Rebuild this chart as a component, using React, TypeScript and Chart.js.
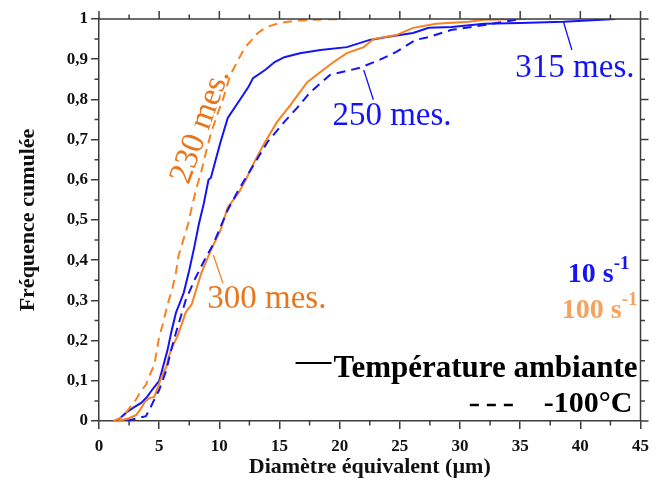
import React, { useEffect, useRef } from 'react';
import { Chart, registerables } from 'chart.js';

Chart.register(...registerables);

// ---- Data ----
// 10 s-1, ambient temperature (315 mes.)
const blueAmbX = [1.5, 2.3, 2.8, 3.5, 4.0, 4.4, 5.0, 5.25, 5.7, 6.0, 6.4, 6.8, 7.05, 7.5, 7.9, 8.3, 8.7, 9.1, 9.3, 9.7, 10.1, 10.7, 11.6, 12.4, 12.8, 13.8, 14.6, 15.4, 16.7, 18.4, 20.6, 22.5, 23.9, 26.1, 27.4, 29.3, 32, 35, 38.6, 42.9];
const blueAmbY = [0, 0.022, 0.032, 0.045, 0.06, 0.077, 0.1, 0.127, 0.177, 0.22, 0.27, 0.3, 0.32, 0.375, 0.43, 0.49, 0.54, 0.6, 0.605, 0.65, 0.694, 0.754, 0.794, 0.83, 0.853, 0.873, 0.893, 0.905, 0.915, 0.923, 0.93, 0.948, 0.955, 0.965, 0.978, 0.98, 0.988, 0.99, 0.993, 1.0];
// 10 s-1, -100°C (250 mes.)
const blueColdX = [2.3, 3.3, 3.9, 4.3, 4.7, 5.0, 5.6, 6.0, 6.4, 7.2, 8.0, 8.85, 9.5, 10.1, 10.7, 11.6, 12.3, 13.2, 14.0, 15.4, 16.5, 17.5, 19.2, 21.6, 23.3, 24.7, 26.3, 27.4, 29.3, 31, 33, 35];
const blueColdY = [0, 0.008, 0.012, 0.035, 0.06, 0.077, 0.127, 0.177, 0.22, 0.3, 0.355, 0.405, 0.44, 0.483, 0.525, 0.575, 0.61, 0.654, 0.694, 0.744, 0.78, 0.816, 0.861, 0.878, 0.898, 0.918, 0.948, 0.955, 0.973, 0.98, 0.99, 1.0];
// 100 s-1, ambient temperature (300 mes.)
const orangeAmbX = [1.6, 2.5, 3.1, 3.4, 3.8, 4.2, 4.6, 4.8, 5.2, 5.6, 5.8, 6.1, 6.5, 6.9, 7.2, 7.7, 8.5, 9.3, 10.1, 10.7, 11.6, 12.2, 12.9, 13.8, 14.8, 15.9, 17.3, 18.4, 19.5, 20.6, 22, 22.8, 24.7, 26.1, 28, 30.7, 32, 35.5];
const orangeAmbY = [0, 0.007, 0.015, 0.027, 0.047, 0.057, 0.06, 0.077, 0.11, 0.135, 0.16, 0.185, 0.21, 0.243, 0.27, 0.29, 0.368, 0.425, 0.475, 0.532, 0.567, 0.6, 0.644, 0.694, 0.744, 0.786, 0.843, 0.868, 0.893, 0.915, 0.93, 0.95, 0.96, 0.978, 0.988, 0.993, 0.998, 1.0];
// 100 s-1, -100°C (230 mes.)
const orangeColdX = [1.2, 2.0, 2.6, 3.0, 3.5, 3.9, 4.3, 4.6, 5.0, 5.25, 5.7, 6.1, 6.4, 6.6, 7.0, 7.4, 7.7, 8.1, 8.5, 8.9, 9.3, 9.8, 10.3, 10.9, 11.6, 12.1, 12.6, 13.2, 13.9, 15.0, 16.5, 18.5, 20.5];
const orangeColdY = [0, 0.01, 0.035, 0.05, 0.075, 0.09, 0.12, 0.14, 0.21, 0.235, 0.29, 0.33, 0.37, 0.41, 0.45, 0.49, 0.53, 0.58, 0.62, 0.67, 0.715, 0.76, 0.8, 0.86, 0.9, 0.928, 0.945, 0.965, 0.98, 0.99, 0.996, 0.999, 1.0];

// Axis ranges
const xMin = 0, xMax = 45, xStep = 5;
const yMin = 0, yMax = 1, yStep = 0.1;
const xTitle = 'Diamètre équivalent (µm)';
const yTitle = 'Fréquence cumulée';

// Annotations (data coordinates)
const annLabels = ['315 mes.', '250 mes.', '300 mes.', '230 mes.'];
const annX = [34.6, 19.4, 9.0, 8.45];
const annY = [0.856, 0.737, 0.282, 0.733];
const annRot = [0, 0, 0, -70];
const annSeries = ['blue', 'blue', 'orange', 'orange'];
const leadX1 = [38.6, 22.0, 9.5, null];
const leadY1 = [0.9925, 0.873, 0.413, null];
const leadX2 = [39.3, 22.8, 10.3, null];
const leadY2 = [0.923, 0.799, 0.343, null];

// Legend texts
const rateLabels = ['10 s', '100 s'];
const rateSup = '-1';
const tempLabels = ['Température ambiante', '-100°C'];

// ---- Styles ----
const BLUE = '#1414f5';
const ORANGE = '#f7821f';
const ORANGE_TXT = '#e8761c';
const ORANGE_LIGHT = '#f8a15c';
const AXIS = '#3c3c3c';
const SERIF = "'Liberation Serif', 'DejaVu Serif', serif";

const pts = (xs: number[], ys: number[]) => xs.map((x, i) => ({ x, y: ys[i] }));

const framePlugin = {
  id: 'frame',
  afterDraw(chart: any) {
    const { ctx, chartArea: a, scales } = chart;
    const xs = scales.x, ys = scales.y;
    ctx.save();
    ctx.strokeStyle = AXIS;
    ctx.lineWidth = 1.5;
    ctx.beginPath();
    ctx.moveTo(a.left, a.top); ctx.lineTo(a.right, a.top); ctx.lineTo(a.right, a.bottom);
    ctx.stroke();
    const major = 8, minor = 4.5;
    const xt = xs.ticks.map((t: any) => t.value);
    const yt = ys.ticks.map((t: any) => t.value);
    ctx.beginPath();
    xt.forEach((v: number, i: number) => {
      const p = xs.getPixelForValue(v);
      ctx.moveTo(p, a.top); ctx.lineTo(p, a.top - major);
      if (i < xt.length - 1) {
        const m = xs.getPixelForValue((v + xt[i + 1]) / 2);
        ctx.moveTo(m, a.top); ctx.lineTo(m, a.top - minor);
        ctx.moveTo(m, a.bottom); ctx.lineTo(m, a.bottom + minor);
      }
    });
    yt.forEach((v: number, i: number) => {
      const p = ys.getPixelForValue(v);
      ctx.moveTo(a.right, p); ctx.lineTo(a.right + major, p);
      if (i < yt.length - 1) {
        const m = ys.getPixelForValue((v + yt[i + 1]) / 2);
        ctx.moveTo(a.right, m); ctx.lineTo(a.right + minor, m);
        ctx.moveTo(a.left, m); ctx.lineTo(a.left - minor, m);
      }
    });
    ctx.stroke();
    ctx.restore();
  },
};

const textPlugin = {
  id: 'texts',
  afterDatasetsDraw(chart: any) {
    const { ctx, chartArea: a, scales } = chart;
    const xs = scales.x, ys = scales.y;
    ctx.save();
    annLabels.forEach((label, i) => {
      const col = annSeries[i] === 'blue' ? BLUE : ORANGE_TXT;
      if (leadX1[i] !== null) {
        ctx.strokeStyle = annSeries[i] === 'blue' ? BLUE : ORANGE;
        ctx.lineWidth = 1.3;
        ctx.beginPath();
        ctx.moveTo(xs.getPixelForValue(leadX1[i]), ys.getPixelForValue(leadY1[i]));
        ctx.lineTo(xs.getPixelForValue(leadX2[i]), ys.getPixelForValue(leadY2[i]));
        ctx.stroke();
      }
      ctx.fillStyle = col;
      ctx.font = `33px ${SERIF}`;
      const px = xs.getPixelForValue(annX[i]);
      const py = ys.getPixelForValue(annY[i]);
      if (annRot[i] !== 0) {
        ctx.save();
        ctx.translate(px, py);
        ctx.rotate((annRot[i] * Math.PI) / 180);
        ctx.textAlign = 'center';
        ctx.textBaseline = 'middle';
        ctx.fillText(label, 0, 0);
        ctx.restore();
      } else {
        ctx.textAlign = 'left';
        ctx.textBaseline = 'alphabetic';
        ctx.fillText(label, px, py);
      }
    });

    // strain-rate legend
    const rateCols = [BLUE, ORANGE_LIGHT];
    const rateRight = [a.right - 11, a.right - 3];
    const rateBase = [a.bottom - 139, a.bottom - 103];
    rateLabels.forEach((lab, i) => {
      ctx.font = `bold 19px ${SERIF}`;
      const sw = ctx.measureText(rateSup).width;
      ctx.textAlign = 'right';
      ctx.textBaseline = 'alphabetic';
      ctx.fillStyle = rateCols[i];
      ctx.fillText(rateSup, rateRight[i], rateBase[i] - 13);
      ctx.font = `bold 28px ${SERIF}`;
      ctx.fillText(lab, rateRight[i] - sw, rateBase[i]);
    });

    // temperature legend
    ctx.fillStyle = '#000';
    ctx.strokeStyle = '#000';
    ctx.font = `bold 31px ${SERIF}`;
    ctx.textAlign = 'right';
    const t1Right = a.right - 3, t1Base = a.bottom - 44;
    ctx.fillText(tempLabels[0], t1Right, t1Base);
    const w1 = ctx.measureText(tempLabels[0]).width;
    ctx.lineWidth = 2;
    ctx.beginPath();
    ctx.moveTo(t1Right - w1 - 38, t1Base - 14);
    ctx.lineTo(t1Right - w1 - 2, t1Base - 14);
    ctx.stroke();
    ctx.font = `bold 30px ${SERIF}`;
    const t2Right = a.right - 8, t2Base = a.bottom - 9;
    ctx.fillText(tempLabels[1], t2Right, t2Base);
    const w2 = ctx.measureText(tempLabels[1]).width;
    ctx.lineWidth = 2.5;
    ctx.setLineDash([9, 8]);
    ctx.beginPath();
    ctx.moveTo(t2Right - w2 - 74, t2Base - 7);
    ctx.lineTo(t2Right - w2 - 31, t2Base - 7);
    ctx.stroke();
    ctx.restore();
  },
};

export default function App() {
  const ref = useRef<HTMLCanvasElement | null>(null);
  useEffect(() => {
    if (!ref.current) return;
    const ds = (xs: number[], ys: number[], color: string, dashed: boolean) => ({
      data: pts(xs, ys),
      borderColor: color,
      backgroundColor: color,
      borderWidth: 2,
      borderDash: dashed ? [9, 6] : [],
      pointRadius: 0,
      showLine: true,
      fill: false,
      tension: 0,
    });
    const chart = new Chart(ref.current, {
      type: 'scatter',
      data: {
        datasets: [
          ds(orangeColdX, orangeColdY, ORANGE, true),
          ds(blueColdX, blueColdY, BLUE, true),
          ds(orangeAmbX, orangeAmbY, ORANGE, false),
          ds(blueAmbX, blueAmbY, BLUE, false),
        ],
      },
      options: {
        animation: false,
        responsive: false,
        layout: { padding: { top: 19, right: 8, left: 0, bottom: 0 } },
        plugins: { legend: { display: false }, tooltip: { enabled: false } },
        scales: {
          x: {
            type: 'linear',
            min: xMin,
            max: xMax,
            afterFit: (s: any) => { s.height = 71; },
            ticks: {
              stepSize: xStep,
              color: '#111',
              padding: 7,
              maxRotation: 0,
              font: { family: SERIF, size: 17, weight: 'bold' },
            },
            grid: { display: true, drawOnChartArea: false, drawTicks: true, tickLength: 8, color: AXIS, lineWidth: 1.5 },
            border: { display: true, color: AXIS, width: 1.5 },
            title: {
              display: true,
              text: xTitle,
              color: '#111',
              padding: { top: 0, bottom: 11 },
              font: { family: SERIF, size: 22, weight: 'bold' },
            },
          },
          y: {
            type: 'linear',
            min: yMin,
            max: yMax,
            afterFit: (s: any) => { s.width = 99; },
            ticks: {
              stepSize: yStep,
              color: '#111',
              padding: 3,
              font: { family: SERIF, size: 17, weight: 'bold' },
              callback: (v: any) => {
                const n = Number(v);
                if (Math.abs(n) < 1e-9) return '0';
                if (Math.abs(n - 1) < 1e-9) return '1';
                return n.toFixed(1).replace('.', ',');
              },
            },
            grid: { display: true, drawOnChartArea: false, drawTicks: true, tickLength: 8, color: AXIS, lineWidth: 1.5 },
            border: { display: true, color: AXIS, width: 1.5 },
            title: {
              display: true,
              text: yTitle,
              color: '#111',
              padding: { top: 15, bottom: 0 },
              font: { family: SERIF, size: 22, weight: 'bold' },
            },
          },
        },
      },
      plugins: [framePlugin, textPlugin],
    });
    return () => chart.destroy();
  }, []);
  return (
    <div style={{ position: 'fixed', left: 0, top: 0, width: 656, height: 492, background: '#fff' }}>
      <canvas ref={ref} width={656} height={492} style={{ display: 'block' }} />
    </div>
  );
}
